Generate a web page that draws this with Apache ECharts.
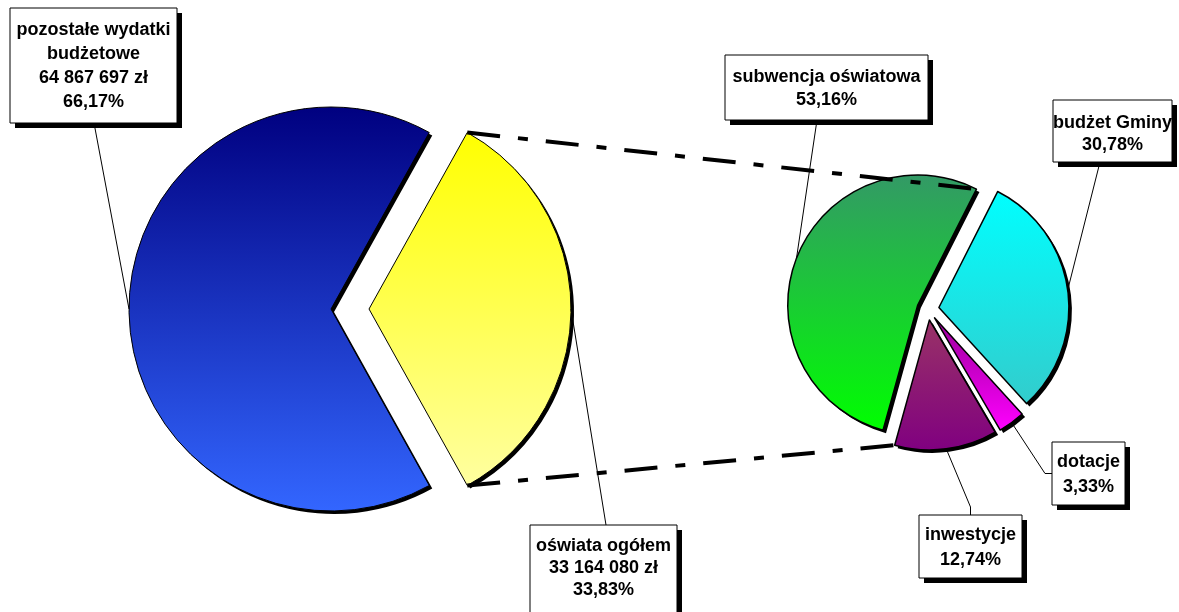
<!DOCTYPE html>
<html><head><meta charset="utf-8">
<script src="https://cdn.jsdelivr.net/npm/echarts@6/dist/echarts.min.js"></script>
<style>html,body{margin:0;padding:0;background:#fff}#c{width:1179px;height:612px}</style>
</head><body><div id="c"></div>
<script>
// ---- data ----
const leftNames = ['pozostałe wydatki\nbudżetowe', 'oświata ogółem'];
const leftValues = [64867697, 33164080];
const rightNames = ['subwencja oświatowa', 'budżet Gminy', 'dotacje', 'inwestycje'];
const rightValues = [53.16, 30.78, 3.33, 12.74];

// ---- layout / style ----
const FONT = 'bold 18px "Liberation Sans", Arial, sans-serif';
const L = {cx: 350, cy: 309, r: 202, off: 19};
const R = {cx: 928, cy: 309, r: 130, off: 11, start: 254.5};
const leftTotal = leftValues.reduce((a, b) => a + b, 0);
L.start = 360 - 180 * leftValues[1] / leftTotal;
const SH = 3; // pie shadow offset

const grad = (c1, c2) => ({type: 'linear', x: 0, y: 0, x2: 0, y2: 1,
  colorStops: [{offset: 0, color: c1}, {offset: 1, color: c2}]});
const leftColors = [grad('#000080', '#3366ff'), grad('#ffff00', '#ffffa0')];
const rightColors = [grad('#339966', '#00ff00'), grad('#00ffff', '#33cccc'),
  grad('#990099', '#ff00ff'), grad('#993366', '#800080')];

// label boxes: [x, y, w, h, lineHeight, text dy]
const leftBoxes = [[10, 8, 167, 115, 24, 1], [530, 525, 147, 92, 22, -3]];
const rightBoxes = [[725, 55, 203, 65, 23, 1], [1053, 100, 119, 62, 22, 3],
  [1052, 442, 73, 63, 25, 1], [919, 515, 103, 63, 25, 1]];

const fmtPct = v => v.toFixed(2).replace('.', ',') + '%';
const fmtAmt = v => String(v).replace(/\B(?=(\d{3})+(?!\d))/g, ' ') + ' zł';

function angles(values, start) {
  const sum = values.reduce((a, b) => a + b, 0);
  let cur = start;
  return values.map(v => {
    const a0 = cur, a1 = cur - v / sum * 360;
    cur = a1;
    return {a0, a1, mid: (a0 + a1) / 2};
  });
}
function pt(g, mid, ang, rad) {
  const m = mid * Math.PI / 180, a = ang * Math.PI / 180;
  return [g.cx + g.off * Math.cos(m) + rad * Math.cos(a),
          g.cy - g.off * Math.sin(m) - rad * Math.sin(a)];
}
const LA = angles(leftValues, L.start);
const RA = angles(rightValues, R.start);

const elements = [];
function box(b, text, leader) {
  const [x, y, w, h, lh, dy] = b;
  elements.push({type: 'polyline', z: 90, shape: {points: leader},
    style: {stroke: '#000', lineWidth: 1, fill: null}});
  elements.push({type: 'rect', z: 99, shape: {x: x + 5, y: y + 5, width: w, height: h},
    style: {fill: '#000'}});
  elements.push({type: 'rect', z: 100, shape: {x: x, y: y, width: w, height: h},
    style: {fill: '#fff', stroke: '#000', lineWidth: 1}});
  elements.push({type: 'text', z: 101, x: x + w / 2, y: y + h / 2 + dy,
    style: {text: text, font: FONT, fill: '#000', align: 'center', verticalAlign: 'middle',
      textAlign: 'center', textVerticalAlign: 'middle', lineHeight: lh}});
}
// left labels
leftNames.forEach((n, i) => {
  const b = leftBoxes[i];
  const s = pt(L, LA[i].mid, LA[i].mid, L.r);
  const end = i === 0 ? [b[0] + 84, b[1] + b[3]] : [b[0] + 76, b[1]];
  box(b, n + '\n' + fmtAmt(leftValues[i]) + '\n' + fmtPct(leftValues[i] / leftTotal * 100), [s, end]);
});
// right labels
rightNames.forEach((n, i) => {
  const b = rightBoxes[i];
  const s = pt(R, RA[i].mid, RA[i].mid, R.r);
  let pts;
  if (i === 0) pts = [s, [b[0] + 92, b[1] + b[3]]];
  else if (i === 1) pts = [s, [b[0] + 47, b[1] + b[3]]];
  else if (i === 2) pts = [s, [b[0] - 7, b[1] + b[3] / 2], [b[0], b[1] + b[3] / 2]];
  else pts = [s, [b[0] + b[2] / 2, b[1] - 8], [b[0] + b[2] / 2, b[1]]];
  box(b, n + '\n' + fmtPct(rightValues[i]), pts);
});
// connector lines between the pies
const dash = {stroke: '#000', lineWidth: 4, lineDash: [33, 18, 10, 18], lineCap: 'butt', fill: null};
elements.push({type: 'polyline', z: 80, shape: {points: [
  pt(L, LA[1].mid, LA[1].a0, L.r), pt(R, RA[0].mid, RA[0].a1, R.r)]}, style: dash});
elements.push({type: 'polyline', z: 80, shape: {points: [
  pt(L, LA[1].mid, LA[1].a1, L.r), pt(R, RA[3].mid, RA[3].a1, R.r)]}, style: dash});

function pieSeries(g, names, values, colors, bw, shadow) {
  const itemStyle = shadow ? {color: '#000', borderWidth: 0}
                           : {borderColor: '#000', borderWidth: bw};
  return {
    type: 'pie', z: shadow ? 1 : 2, silent: true,
    center: shadow ? [g.cx + SH, g.cy + SH] : [g.cx, g.cy], radius: g.r,
    startAngle: g.start, clockwise: true,
    selectedMode: 'multiple', selectedOffset: g.off, avoidLabelOverlap: false,
    label: {show: false}, labelLine: {show: false}, emphasis: {disabled: true},
    itemStyle: itemStyle, select: {itemStyle: itemStyle},
    data: names.map((n, i) => {
      const st = shadow ? {color: '#000'} : {color: colors[i]};
      return {name: n, value: values[i], selected: true, itemStyle: st, select: {itemStyle: st}};
    })
  };
}

const chart = echarts.init(document.getElementById('c'));
chart.setOption({
  animation: false,
  backgroundColor: '#fff',
  series: [pieSeries(L, leftNames, leftValues, leftColors, 1, true),
           pieSeries(R, rightNames, rightValues, rightColors, 1.5, true),
           pieSeries(L, leftNames, leftValues, leftColors, 1, false),
           pieSeries(R, rightNames, rightValues, rightColors, 1.5, false)],
  graphic: {elements: elements}
});
</script></body></html>
